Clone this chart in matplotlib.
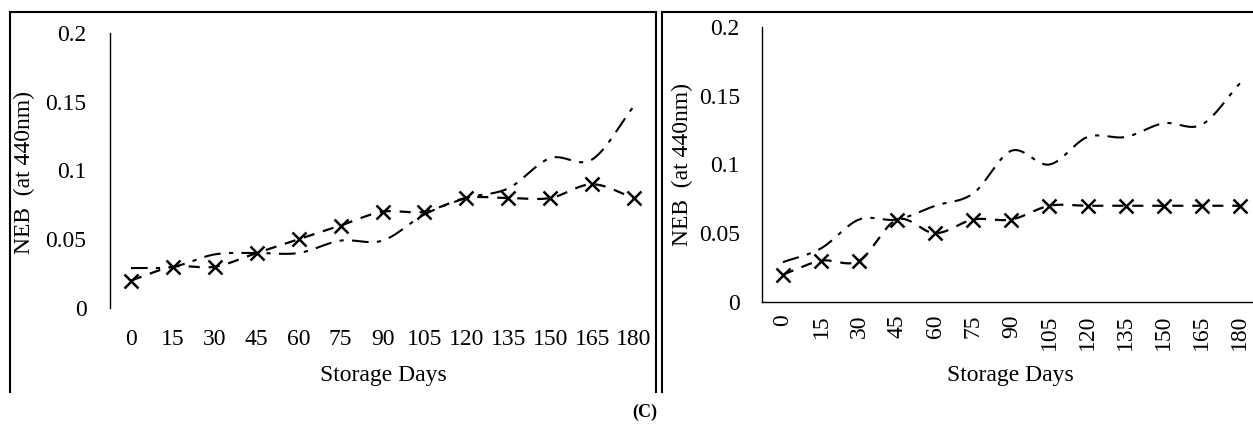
import numpy as np
import matplotlib
matplotlib.use('Agg')
import matplotlib.pyplot as plt
from matplotlib.lines import Line2D

plt.rcParams['font.family'] = ['Liberation Serif', 'DejaVu Serif']

days = ['0', '15', '30', '45', '60', '75', '90', '105', '120', '135', '150', '165', '180']

# panel 1
left_x_series = [0.02, 0.03, 0.03, 0.04, 0.05, 0.06, 0.07, 0.07, 0.08, 0.08, 0.08, 0.09, 0.08]
left_dd_series = [0.029, 0.03, 0.039, 0.04, 0.04, 0.049, 0.049, 0.068, 0.08, 0.087, 0.109, 0.108, 0.147]
# panel 2
right_x_series = [0.02, 0.03, 0.03, 0.06, 0.05, 0.06, 0.06, 0.07, 0.07, 0.07, 0.07, 0.07, 0.07]
right_dd_series = [0.029, 0.039, 0.06, 0.06, 0.07, 0.079, 0.11, 0.1, 0.12, 0.12, 0.13, 0.129, 0.159]

W, H = 1253, 432
FS = 17


def smooth(y, n=20):
    # catmull-rom like Excel's smoothed line
    y = np.asarray(y, float)
    x = np.arange(len(y), dtype=float)
    p = np.concatenate([[2 * y[0] - y[1]], y, [2 * y[-1] - y[-2]]])
    xs, ys = [], []
    for i in range(len(y) - 1):
        p0, p1, p2, p3 = p[i], p[i + 1], p[i + 2], p[i + 3]
        t = np.linspace(0, 1, n, endpoint=False)
        yy = 0.5 * ((2 * p1) + (-p0 + p2) * t + (2 * p0 - 5 * p1 + 4 * p2 - p3) * t ** 2
                    + (-p0 + 3 * p1 - 3 * p2 + p3) * t ** 3)
        xs.extend(x[i] + t)
        ys.extend(yy)
    xs.append(x[-1])
    ys.append(y[-1])
    return np.array(xs), np.array(ys)


def ax_px(fig, l, t, w, h):
    return fig.add_axes([l / W, 1 - (t + h) / H, w / W, h / H])


fig = plt.figure(figsize=(W / 100, H / 100), dpi=100)

# frames
def frame(x0, x1, top, bot):
    fig.add_artist(Line2D([x0 / W, x0 / W], [1 - bot / H, 1 - top / H], color='black', lw=1.5))
    fig.add_artist(Line2D([x0 / W, x1 / W], [1 - top / H, 1 - top / H], color='black', lw=1.5))
    fig.add_artist(Line2D([x1 / W, x1 / W], [1 - bot / H, 1 - top / H], color='black', lw=1.5))

frame(10, 656, 12, 392)
frame(662, 1260, 12, 392)

panels = [
    (ax_px(fig, 110, 33, 545, 275), left_x_series, left_dd_series, False),
    (ax_px(fig, 762, 27, 495, 275), right_x_series, right_dd_series, True),
]

for ax, xs_vals, dd_vals, rot in panels:
    n = len(days)
    sx, sy = smooth(dd_vals)
    ax.plot(sx, sy, color='black', lw=1.5, linestyle=(0, (8, 4, 2, 4)))
    mx, my = smooth(xs_vals)
    ax.plot(mx, my, color='black', lw=1.6, linestyle=(0, (5, 4)))
    ax.plot(range(n), xs_vals, linestyle='none', marker='x', ms=10, mew=1.8, color='black')
    ax.set_ylim(0, 0.2)
    ax.set_yticks([0, 0.05, 0.1, 0.15, 0.2])
    ax.set_yticklabels(['0', '0.05', '0.1', '0.15', '0.2'])
    ax.set_xticks(range(n))
    if rot:
        ax.set_xlim(-0.55, 12.45)
        ax.set_xticklabels(days, rotation=90)
        ax.tick_params(axis='x', pad=9)
        ax.spines['bottom'].set_visible(True)
        ax.tick_params(axis='y', pad=16)
    else:
        ax.set_xlim(-0.5, 12.5)
        ax.set_xticklabels(days)
        ax.tick_params(axis='x', pad=15)
        ax.spines['bottom'].set_visible(False)
        ax.tick_params(axis='y', pad=17)
    ax.tick_params(length=0, labelsize=FS)
    for s in ['top', 'right']:
        ax.spines[s].set_visible(False)
    ax.spines['left'].set_linewidth(1.0)
    ax.spines['bottom'].set_linewidth(1.0)
    ax.patch.set_alpha(0)

fig.text(24 / W, 1 - 172 / H, 'NEB  (at 440nm)', rotation=90, ha='center', va='center', fontsize=FS)
fig.text(682 / W, 1 - 165 / H, 'NEB  (at 440nm)', rotation=90, ha='center', va='center', fontsize=FS)
fig.text(383 / W, 1 - 375 / H, 'Storage Days', ha='center', va='center', fontsize=FS)
fig.text(1010 / W, 1 - 375 / H, 'Storage Days', ha='center', va='center', fontsize=FS)
fig.text(645 / W, 1 - 412 / H, '(C)', ha='center', va='center', fontsize=13, fontweight='bold')

fig.savefig('out.png', dpi=100)
